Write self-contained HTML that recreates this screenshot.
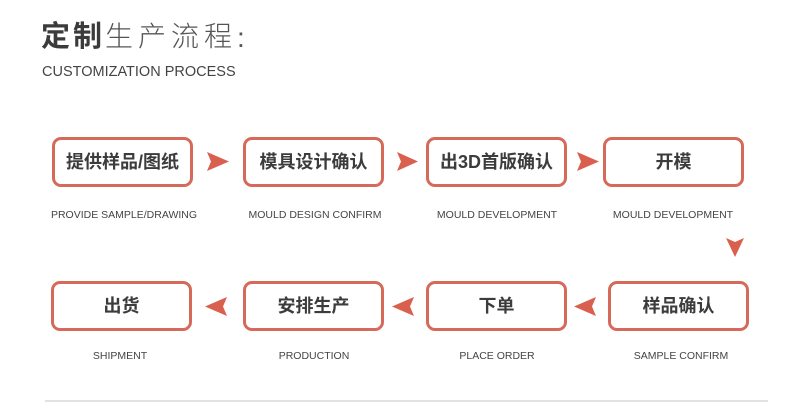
<!DOCTYPE html>
<html><head><meta charset="utf-8">
<style>
html,body{margin:0;padding:0;background:#fff;}
body{width:790px;height:408px;position:relative;overflow:hidden;font-family:"Liberation Sans","Noto Sans CJK SC",sans-serif;}
.t1{position:absolute;left:41px;top:23px;font-size:28px;line-height:28px;color:#444;white-space:nowrap;letter-spacing:5px;font-family:"Liberation Sans","Noto Sans CJK SC",sans-serif;}
.t1 b{font-weight:bold;color:#3b3b3b;letter-spacing:3px;font-size:29px;}
.t1 span{font-weight:300;color:#555;}
.t1 i{font-style:normal;font-weight:normal;color:#555;letter-spacing:0;position:relative;top:1px;}
.t2{position:absolute;left:42px;top:64px;font-size:14.5px;line-height:16px;color:#444;white-space:nowrap;}
.box{position:absolute;width:135px;height:44px;border:3px solid #d66a5a;border-radius:9px;display:flex;align-items:center;justify-content:center;font-size:18px;font-weight:bold;color:#3c3c3c;white-space:nowrap;box-sizing:content-box;}
.box span{position:relative;top:-1px;}
.lbl{position:absolute;width:200px;text-align:center;font-size:10.5px;line-height:12px;color:#444;white-space:nowrap;}
.line{position:absolute;left:45px;top:400px;width:723px;height:2px;background:#e2e2e2;}
svg{position:absolute;left:0;top:0;}
</style></head><body>
<div class="t1"><b>定制</b><span>生产流程</span><i>:</i></div>
<div class="t2">CUSTOMIZATION PROCESS</div>

<div class="box" style="left:52px;top:137px;"><span>提供样品/图纸</span></div>
<div class="box" style="left:243px;top:137px;"><span>模具设计确认</span></div>
<div class="box" style="left:426px;top:137px;"><span>出3D首版确认</span></div>
<div class="box" style="left:603px;top:137px;"><span>开模</span></div>

<div class="box" style="left:51px;top:281px;"><span>出货</span></div>
<div class="box" style="left:243px;top:281px;"><span>安排生产</span></div>
<div class="box" style="left:426px;top:281px;"><span>下单</span></div>
<div class="box" style="left:608px;top:281px;"><span>样品确认</span></div>

<div class="lbl" style="left:24px;top:209px;">PROVIDE SAMPLE/DRAWING</div>
<div class="lbl" style="left:215px;top:209px;">MOULD DESIGN CONFIRM</div>
<div class="lbl" style="left:397px;top:209px;">MOULD DEVELOPMENT</div>
<div class="lbl" style="left:573px;top:209px;">MOULD DEVELOPMENT</div>

<div class="lbl" style="left:20px;top:350px;">SHIPMENT</div>
<div class="lbl" style="left:214px;top:350px;">PRODUCTION</div>
<div class="lbl" style="left:397px;top:350px;">PLACE ORDER</div>
<div class="lbl" style="left:581px;top:350px;">SAMPLE CONFIRM</div>

<svg width="790" height="408" viewBox="0 0 790 408">
  <g fill="#d9604f">
    <polygon points="207,152 229,161.5 207,171 211,161.5"/>
    <polygon points="397,152 418,161.5 397,171 401,161.5"/>
    <polygon points="577,152 599,161.5 577,171 581,161.5"/>
    <polygon points="726,238 735,257 744,238 735,242"/>
    <polygon points="227,297 205,306.5 227,316 223,306.5"/>
    <polygon points="414,297 392,306.5 414,316 410,306.5"/>
    <polygon points="596,297 574,306.5 596,316 592,306.5"/>
  </g>
</svg>
<div class="line"></div>
</body></html>
